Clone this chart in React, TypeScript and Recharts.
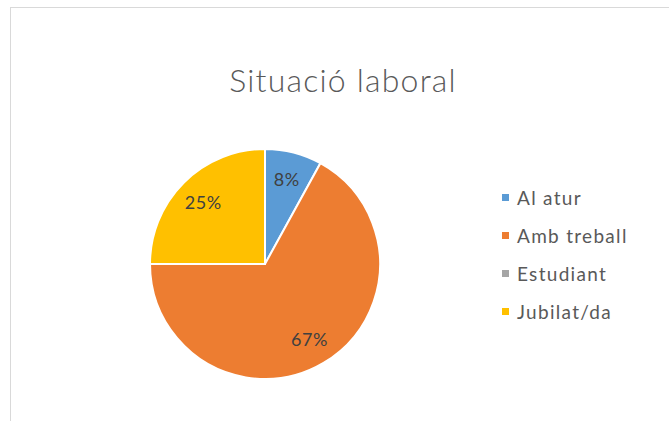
import React from 'react';
import { PieChart, Pie, Cell, Legend } from 'recharts';

const categories = ['Al atur', 'Amb treball', 'Estudiant', 'Jubilat/da'];
const values = [8, 67, 0, 25];
const colors = ['#5B9BD5', '#ED7D31', '#A5A5A5', '#FFC000'];

const data = categories.map((name, i) => ({ name, value: values[i] }));

const FONT = 'Lato, "Open Sans", sans-serif';
const RADIAN = Math.PI / 180;

const renderLabel = (props: any) => {
  const { cx, cy, midAngle, outerRadius, percent, value } = props;
  if (!value) return null;
  const r = outerRadius * 0.76;
  const x = cx + r * Math.cos(-midAngle * RADIAN);
  const y = cy + r * Math.sin(-midAngle * RADIAN);
  return (
    <text
      x={x}
      y={y}
      fill="#404040"
      fontSize={18}
      fontFamily={FONT}
      letterSpacing={0.5}
      textAnchor="middle"
      dominantBaseline="central"
    >
      {`${Math.round(percent * 100)}%`}
    </text>
  );
};

const renderLegend = (props: any) => {
  const { payload } = props;
  return (
    <div style={{ fontFamily: FONT }}>
      {payload.map((entry: any, i: number) => (
        <div
          key={i}
          style={{ display: 'flex', alignItems: 'center', height: 38 }}
        >
          <span
            style={{
              width: 7,
              height: 7,
              background: entry.color,
              display: 'inline-block',
              marginRight: 8,
            }}
          />
          <span style={{ fontSize: 19, color: '#595959', letterSpacing: 1.3 }}>
            {entry.value}
          </span>
        </div>
      ))}
    </div>
  );
};

const App = () => {
  return (
    <div
      style={{
        position: 'absolute',
        left: 0,
        top: 0,
        width: 669,
        height: 421,
        overflow: 'hidden',
        background: '#fff',
      }}
    >
      <div
        style={{
          position: 'absolute',
          left: 10,
          top: 7,
          width: 700,
          height: 440,
          border: '1px solid #d9d9d9',
        }}
      />
      <div
        style={{
          position: 'absolute',
          left: 0,
          top: 60,
          width: 686,
          textAlign: 'center',
          fontFamily: FONT,
          fontSize: 32,
          fontWeight: 300,
          letterSpacing: 1.2,
          color: '#595959',
          lineHeight: '40px',
        }}
      >
        Situació laboral
      </div>
      <PieChart
        width={669}
        height={421}
        margin={{ top: 0, right: 0, bottom: 0, left: 0 }}
        style={{ position: 'absolute', left: 0, top: 0 }}
      >
        <Pie
          data={data}
          dataKey="value"
          nameKey="name"
          cx={265}
          cy={264}
          outerRadius={115}
          startAngle={90}
          endAngle={-270}
          stroke="#ffffff"
          strokeWidth={2}
          label={renderLabel}
          labelLine={false}
          isAnimationActive={false}
        >
          {data.map((d, i) => (
            <Cell key={d.name} fill={colors[i]} />
          ))}
        </Pie>
        <Legend
          layout="vertical"
          content={renderLegend}
          wrapperStyle={{ position: 'absolute', left: 502, top: 178, width: 160 }}
        />
      </PieChart>
    </div>
  );
};

export default App;
